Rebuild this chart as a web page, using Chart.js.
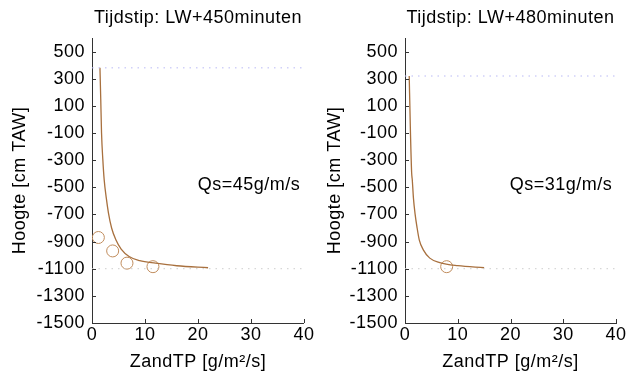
<!DOCTYPE html>
<html><head><meta charset="utf-8">
<script src="https://cdn.jsdelivr.net/npm/chart.js@4/dist/chart.umd.min.js"></script>
<style>
html,body{margin:0;padding:0;background:#fff;}
#wrap{position:relative;width:630px;height:376px;background:#fff;}
.box{position:absolute;top:0;width:315px;height:376px;}
canvas{display:block;}
</style></head><body>
<div id="wrap">
<div class="box" style="left:0"><canvas id="c1" width="315" height="376"></canvas></div>
<div class="box" style="left:315px"><canvas id="c2" width="315" height="376"></canvas></div>
</div>
<script>
const titles = ['Tijdstip: LW+450minuten', 'Tijdstip: LW+480minuten'];
const qsLabels = ['Qs=45g/m/s', 'Qs=31g/m/s'];
const xTitle = 'ZandTP [g/m\u00b2/s]';
const yTitle = 'Hoogte [cm TAW]';
const xTicks = [0, 10, 20, 30, 40];
const yTicks = [-1500, -1300, -1100, -900, -700, -500, -300, -100, 100, 300, 500];

const curve450X = [1.5, 1.65, 1.8, 2.05, 2.3, 2.7, 3.1, 3.7, 4.5, 5.5, 7.0, 9.0, 12.0, 16.0, 21.9];
const curve450Y = [380, 150, -100, -300, -445, -580, -688, -800, -887, -955, -1010, -1040, -1059, -1078, -1093];
const obs450X = [1.2, 3.9, 6.6, 11.5];
const obs450Y = [-870, -969, -1059, -1085];

const curve480X = [0.8, 1.0, 1.26, 1.38, 1.6, 1.89, 2.3, 2.7, 3.47, 4.7, 6.6, 10.0, 15.0];
const curve480Y = [320, -40, -393, -445, -580, -690, -800, -887, -961, -1022, -1055, -1078, -1093];
const obs480X = [7.9];
const obs480Y = [-1085];

const topLevels = [380, 320];
const bottomLevels = [-1100, -1100];

const FONT = "'Liberation Sans', Arial, sans-serif";
const FS = 18;
const LS = '0.5px';
const zip = (xs, ys) => xs.map((x, i) => ({x: x, y: ys[i]}));

const stylePlugin = {
  id: 'stylePlugin',
  beforeDraw(chart) { chart.ctx.letterSpacing = LS; },
  afterDraw(chart, args, opts) {
    const ctx = chart.ctx;
    const xs = chart.scales.x, ys = chart.scales.y;
    const a = chart.chartArea;
    ctx.save();
    ctx.strokeStyle = '#333';
    ctx.lineWidth = 1;
    ctx.beginPath();
    xs.ticks.forEach(t => {
      const px = Math.round(xs.getPixelForValue(t.value)) + 0.5;
      ctx.moveTo(px, a.bottom); ctx.lineTo(px, a.bottom - 4);
    });
    ys.ticks.forEach(t => {
      const py = Math.round(ys.getPixelForValue(t.value)) + 0.5;
      ctx.moveTo(a.left, py); ctx.lineTo(a.left + 4, py);
    });
    ctx.stroke();
    ctx.letterSpacing = LS;
    ctx.fillStyle = '#000';
    ctx.font = FS + 'px ' + FONT;
    ctx.textAlign = 'center';
    ctx.textBaseline = 'middle';
    ctx.fillText(opts.title, (xs.getPixelForValue(0) + xs.getPixelForValue(40)) / 2, 18);
    ctx.textAlign = 'right';
    ctx.fillText(opts.qs, xs.getPixelForValue(39.3), ys.getPixelForValue(-480));
    ctx.restore();
  }
};

function makeChart(id, idx, cx, cy, ox, oy, yWidth, padRight) {
  new Chart(document.getElementById(id), {
    type: 'scatter',
    data: {
      datasets: [
        {type: 'line', data: [{x: 0, y: topLevels[idx]}, {x: 40, y: topLevels[idx]}], borderColor: 'rgb(185,185,245)', borderWidth: 1, borderDash: [1.5, 5], pointRadius: 0},
        {type: 'line', data: [{x: 0, y: bottomLevels[idx]}, {x: 40, y: bottomLevels[idx]}], borderColor: 'rgb(205,205,205)', borderWidth: 1, borderDash: [1.5, 5], pointRadius: 0},
        {type: 'line', data: zip(cx, cy), borderColor: 'rgb(168,112,62)', borderWidth: 1.3, pointRadius: 0, cubicInterpolationMode: 'monotone', fill: false},
        {type: 'scatter', data: zip(ox, oy), borderColor: 'rgb(192,140,92)', backgroundColor: 'rgba(0,0,0,0)', borderWidth: 1, pointRadius: 6, pointStyle: 'circle'}
      ]
    },
    options: {
      responsive: false,
      animation: false,
      events: [],
      layout: {padding: {top: 38, right: padRight, left: 0, bottom: 0}},
      plugins: {legend: {display: false}, tooltip: {enabled: false}, title: {display: false},
        stylePlugin: {title: titles[idx], qs: qsLabels[idx]}},
      scales: {
        x: {
          type: 'linear', min: 0, max: 40,
          afterBuildTicks: s => { s.ticks = xTicks.map(v => ({value: v})); },
          afterFit: s => { s.height = 53; },
          grid: {display: false, drawTicks: false},
          border: {display: true, color: '#333', width: 1},
          ticks: {color: '#000', font: {family: FONT, size: FS}, padding: 1, maxRotation: 0, callback: v => String(v)},
          title: {display: true, text: xTitle, color: '#000', font: {family: FONT, size: FS}, padding: {top: 0, bottom: 3}}
        },
        y: {
          type: 'linear', min: -1500, max: 600,
          afterBuildTicks: s => { s.ticks = yTicks.map(v => ({value: v})); },
          afterFit: s => { s.width = yWidth; },
          grid: {display: false, drawTicks: false},
          border: {display: true, color: '#333', width: 1},
          ticks: {color: '#000', font: {family: FONT, size: FS}, padding: 7, callback: v => String(v)},
          title: {display: true, text: yTitle, color: '#000', font: {family: FONT, size: FS}, padding: {top: 9, bottom: 0}}
        }
      }
    },
    plugins: [stylePlugin]
  });
}

makeChart('c1', 0, curve450X, curve450Y, obs450X, obs450Y, 92, 10);
makeChart('c2', 1, curve480X, curve480Y, obs480X, obs480Y, 90, 14);
</script>
</body></html>
